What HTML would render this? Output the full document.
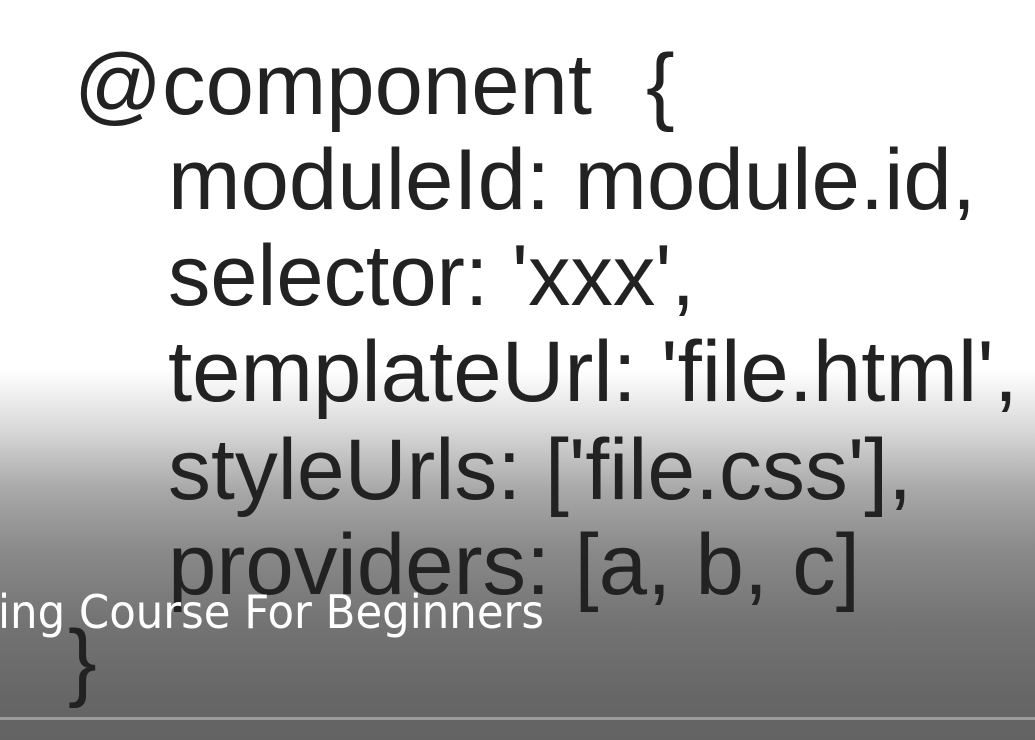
<!DOCTYPE html>
<html><head><meta charset="utf-8"><style>
html,body{margin:0;padding:0;width:1035px;height:740px;overflow:hidden}
body{background:linear-gradient(to bottom,#fff 0px,#fff 370px,#d8d8d8 430px,#a8a8a8 490px,#8a8a8a 550px,#747474 620px,#666 700px,#636363 740px)}
svg{position:absolute;left:0;top:0}
</style></head><body>
<svg width="1035" height="740" xmlns="http://www.w3.org/2000/svg">
<g font-family="Liberation Sans, Arial, sans-serif" font-size="86" fill="#222">
<text x="74" y="114" textLength="518" lengthAdjust="spacingAndGlyphs">@component</text>
<text x="646" y="114">{</text>
<text x="168" y="209" textLength="808" lengthAdjust="spacingAndGlyphs">moduleId: module.id,</text>
<text x="168" y="305" textLength="527" lengthAdjust="spacingAndGlyphs">selector: 'xxx',</text>
<text x="168" y="401" textLength="850" lengthAdjust="spacingAndGlyphs">templateUrl: 'file.html',</text>
<text x="168" y="499" textLength="744" lengthAdjust="spacingAndGlyphs">styleUrls: ['file.css'],</text>
<text x="168" y="594" textLength="692" lengthAdjust="spacingAndGlyphs">providers: [a, b, c]</text>
<text x="68" y="690">}</text>
</g>
<rect x="0" y="717" width="1035" height="3" fill="#9a9a9a"/>
<text x="-2" y="628" font-family="DejaVu Sans Condensed, Liberation Sans Narrow, sans-serif" font-size="46" fill="#fff" textLength="546" lengthAdjust="spacingAndGlyphs">ing Course For Beginners</text>
</svg>
</body></html>
